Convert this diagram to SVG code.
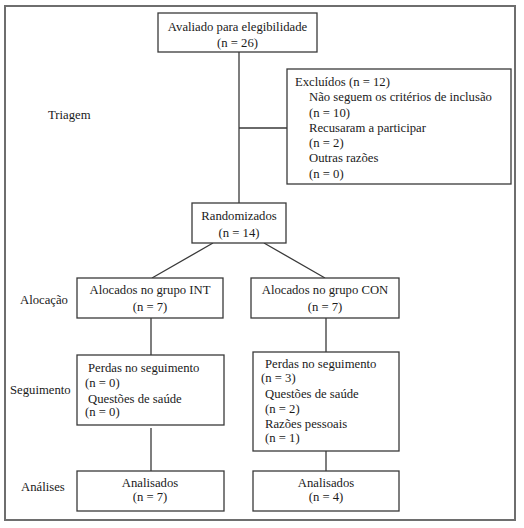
<svg xmlns="http://www.w3.org/2000/svg" width="524" height="528" viewBox="0 0 524 528">
<style>
.box{fill:#fff;stroke:#3a3a3a;stroke-width:1.3}
.ln{stroke:#3a3a3a;stroke-width:1.3;fill:none}
text{font-family:"Liberation Serif","Times New Roman",serif;font-size:12.7px;fill:#1a1a1a}
.c{text-anchor:middle}
</style>
<rect x="0" y="0" width="524" height="528" fill="#fff"/>
<rect x="5" y="6" width="510" height="514" fill="#fff" stroke="#6e6e6e" stroke-width="2"/>
<g id="connectors">
<path class="ln" d="M239 52V203M239 128H287"/>
<path class="ln" d="M213 243L152 278M264 243L325 278"/>
<path class="ln" d="M151 318V355M326 318V352"/>
<path class="ln" d="M151 428V471M326 451V471"/>
</g>
<g id="labels">
<text x="48" y="119">Triagem</text>
<text x="20" y="304">Alocação</text>
<text x="10" y="394">Seguimento</text>
<text x="21" y="491">Análises</text>
</g>
<g id="n-eleg">
<rect class="box" x="158" y="13" width="159" height="39"/>
<text class="c" x="237.5" y="31">Avaliado para elegibilidade</text>
<text class="c" x="237.5" y="47">(n = 26)</text>
</g>
<g id="n-excl">
<rect class="box" x="287" y="69" width="224" height="115"/>
<text x="295" y="86">Excluídos (n = 12)</text>
<text x="309" y="101">Não seguem os critérios de inclusão</text>
<text x="309" y="117">(n = 10)</text>
<text x="309" y="132">Recusaram a participar</text>
<text x="309" y="147">(n = 2)</text>
<text x="309" y="162">Outras razões</text>
<text x="309" y="178">(n = 0)</text>
</g>
<g id="n-rand">
<rect class="box" x="192" y="203" width="94" height="40"/>
<text class="c" x="239" y="220">Randomizados</text>
<text class="c" x="239" y="237">(n = 14)</text>
</g>
<g id="n-int">
<rect class="box" x="77" y="278" width="146" height="40"/>
<text class="c" x="150" y="294">Alocados no grupo INT</text>
<text class="c" x="150" y="311">(n = 7)</text>
</g>
<g id="n-con">
<rect class="box" x="251" y="278" width="148" height="40"/>
<text class="c" x="325" y="294">Alocados no grupo CON</text>
<text class="c" x="325" y="311">(n = 7)</text>
</g>
<g id="n-seg-int">
<rect class="box" x="77" y="355" width="147" height="70"/>
<text x="88" y="372">Perdas no seguimento</text>
<text x="85" y="387">(n = 0)</text>
<text x="88" y="403">Questões de saúde</text>
<text x="85" y="416">(n = 0)</text>
</g>
<g id="n-seg-con">
<rect class="box" x="253" y="352" width="146" height="99"/>
<text x="265" y="368">Perdas no seguimento</text>
<text x="261" y="382">(n = 3)</text>
<text x="265" y="398">Questões de saúde</text>
<text x="265" y="413">(n = 2)</text>
<text x="265" y="428">Razões pessoais</text>
<text x="265" y="442">(n = 1)</text>
</g>
<g id="n-an-int">
<rect class="box" x="77" y="471" width="147" height="40"/>
<text class="c" x="150" y="487">Analisados</text>
<text class="c" x="150" y="501">(n = 7)</text>
</g>
<g id="n-an-con">
<rect class="box" x="253" y="471" width="146" height="40"/>
<text class="c" x="326" y="487">Analisados</text>
<text class="c" x="326" y="501">(n = 4)</text>
</g>
</svg>
